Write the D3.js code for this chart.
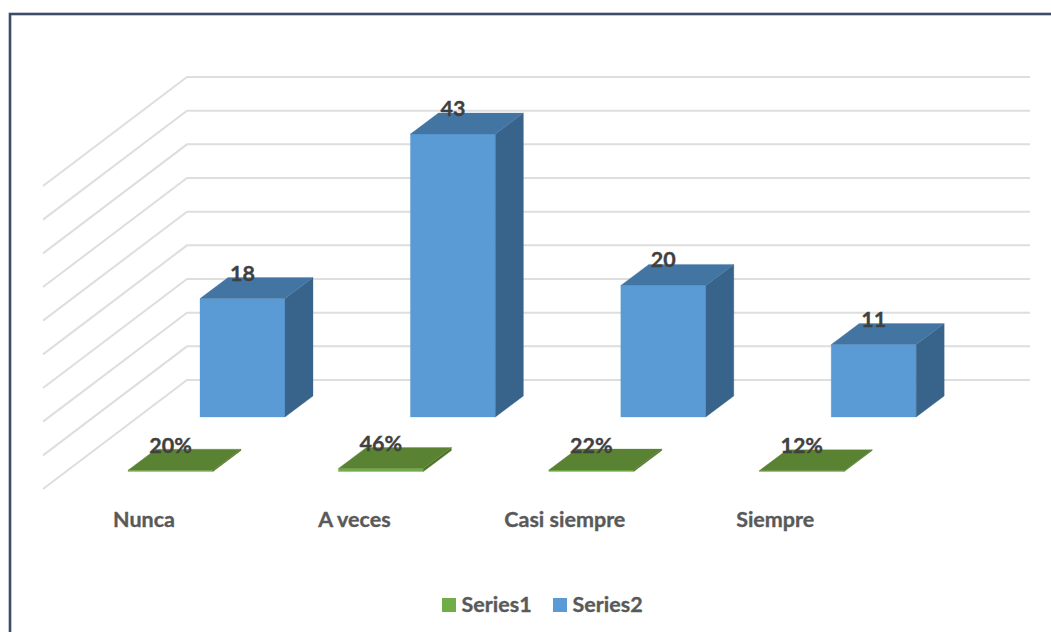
<!DOCTYPE html>
<html><head><meta charset="utf-8">
<script src="https://cdnjs.cloudflare.com/ajax/libs/d3/7.8.5/d3.min.js"></script>
<style>html,body{margin:0;padding:0;background:#fff}svg{display:block}text{font-family:Lato,"Open Sans",sans-serif;font-weight:700;stroke-width:.35px;paint-order:stroke}</style>
</head><body><svg id="c" width="1051" height="632"></svg>
<script>
const categories = ["Nunca","A veces","Casi siempre","Siempre"];
const series1 = [0.20,0.46,0.22,0.12];
const series2 = [18,43,20,11];
const series1Labels = ["20%","46%","22%","12%"];
const series2Labels = ["18","43","20","11"];
const gridValues = [0,5,10,15,20,25,30,35,40,45];
const seriesNames = ["Series1","Series2"];

const svg = d3.select("#c");
const W = 1051, H = 632;
svg.append("rect").attr("x",10).attr("y",14).attr("width",W+20).attr("height",H+20)
  .attr("fill","#fff").attr("stroke","#3c4c66").attr("stroke-width",2.6);

const pxPerUnit = 6.58;
const y = d3.scaleLinear().domain([0,45]).range([0,45*pxPerUnit]);
const x = d3.scaleBand().domain(categories).range([128,128+4*210.4]).padding(0).align(0);
const barW = 85, depthX = 28, depthY = 21;
const serOffset = d3.scaleOrdinal().domain(seriesNames).range([0,72]);
const serBase = d3.scaleOrdinal().domain(seriesNames).range([471.5,417]);
const colors = d3.scaleOrdinal().domain(seriesNames).range(["#70ad47","#5b9bd5"]);
const topC = d3.scaleOrdinal().domain(seriesNames).range(["#5a8233","#4375a3"]);
const sideC = d3.scaleOrdinal().domain(seriesNames).range(["#4e7229","#38648b"]);

// wall + floor gridlines
const gridY = d3.scaleLinear().domain([0,45]).range([380,77]);
const line = d3.line();
svg.append("g").selectAll("path").data(gridValues).join("path")
  .attr("d",v=>line([[43,gridY(v)+109],[187,gridY(v)],[1030,gridY(v)]]))
  .attr("fill","none").attr("stroke","#dedede").attr("stroke-width",2);

function drawBars(name,vals){
  const g = svg.append("g").selectAll("g").data(vals).join("g");
  const X = (d,i)=>x(categories[i])+serOffset(name);
  const B = serBase(name);
  g.append("path").attr("fill",colors(name)).attr("stroke",colors(name)).attr("stroke-opacity",.5).attr("stroke-width",.6)
    .attr("d",(d,i)=>line([[X(d,i),B],[X(d,i)+barW,B],[X(d,i)+barW,B-y(d)],[X(d,i),B-y(d)]])+"Z");
  g.append("path").attr("fill",sideC(name)).attr("stroke",sideC(name)).attr("stroke-opacity",.5).attr("stroke-width",.6)
    .attr("d",(d,i)=>line([[X(d,i)+barW,B],[X(d,i)+barW+depthX,B-depthY],[X(d,i)+barW+depthX,B-depthY-y(d)],[X(d,i)+barW,B-y(d)]])+"Z");
  g.append("path").attr("fill",topC(name)).attr("stroke",topC(name)).attr("stroke-opacity",.5).attr("stroke-width",.6)
    .attr("d",(d,i)=>line([[X(d,i),B-y(d)],[X(d,i)+barW,B-y(d)],[X(d,i)+barW+depthX,B-depthY-y(d)],[X(d,i)+depthX,B-depthY-y(d)]])+"Z");
}
drawBars("Series2",series2);
drawBars("Series1",series1);

function labels(name,vals,texts,shift,dx){
  svg.append("g").selectAll("text").data(vals).join("text")
    .attr("x",(d,i)=>x(categories[i])+serOffset(name)+barW/2+dx)
    .attr("y",d=>serBase(name)-y(d)-shift)
    .attr("text-anchor","middle").attr("font-size",21.5).attr("fill","#404040").attr("stroke","#404040")
    .text((d,i)=>texts[i]);
}
labels("Series2",series2,series2Labels,18,0);
labels("Series1",series1,series1Labels,17.5,0);

svg.append("g").selectAll("text").data(categories).join("text")
  .attr("x",d=>x(d)+16).attr("y",527).attr("text-anchor","middle")
  .attr("font-size",21.5).attr("fill","#595959").attr("stroke","#595959").text(d=>d);

const legX = d3.scaleOrdinal().domain(seriesNames).range([442,553]);
const leg = svg.append("g").selectAll("g").data(seriesNames).join("g");
leg.append("rect").attr("x",d=>legX(d)).attr("y",598).attr("width",14).attr("height",14).attr("fill",d=>colors(d));
leg.append("text").attr("x",d=>legX(d)+19.5).attr("y",612).attr("font-size",21.5).attr("fill","#595959").attr("stroke","#595959").text(d=>d);
</script></body></html>
